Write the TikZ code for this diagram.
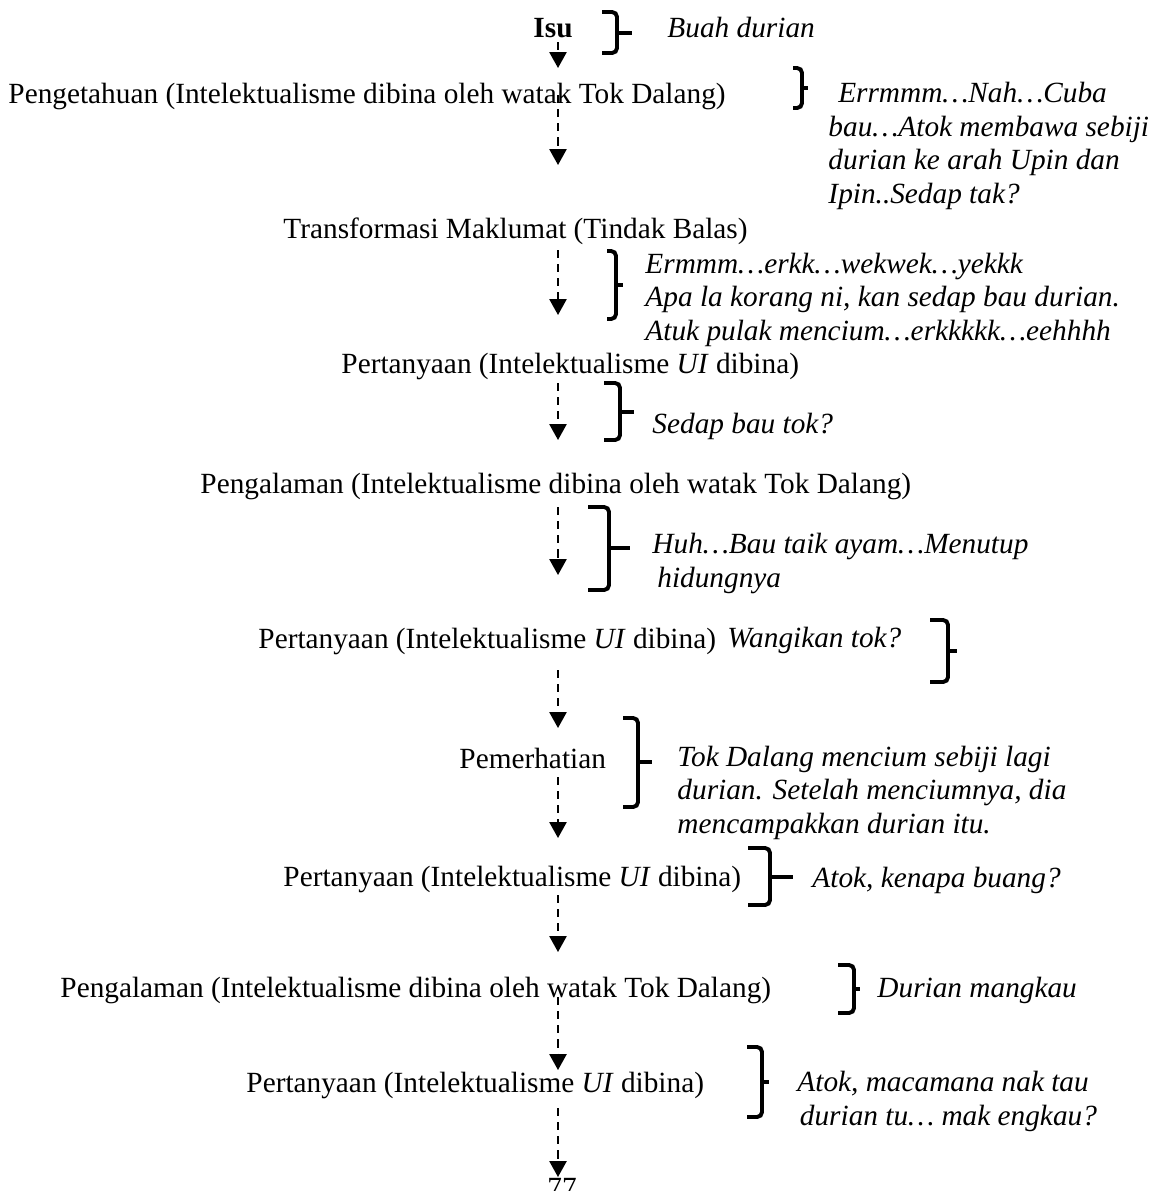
\documentclass[tikz,border=0pt]{standalone}
\usepackage{fontspec}
\setmainfont{Liberation Serif}
\usetikzlibrary{arrows.meta}

% kurung: hujung, tegak, atas, bawah, tengah, taji
\newcommand{\kurung}[6]{%
  \draw[krg] (#1,#3) -- (#2,#3) -- (#2,#4) -- (#1,#4);
  \draw[krg] (#2,#5) -- (#6,#5);}

\begin{document}
\begin{tikzpicture}[->,>={Triangle[width=7pt,length=6.5pt]},x=0.4096pt,y=-0.4096pt,
    font=\fontsize{12}{13.7}\selectfont]
  \tikzstyle{txt}=[anchor=base west,inner sep=0pt,align=left]
  \tikzstyle{ket}=[txt,font=\fontsize{12}{13.7}\selectfont\itshape]
  \tikzstyle{alir}=[line width=0.8pt,dash pattern=on 3.3pt off 2.5pt]
  \tikzstyle{krg}=[-,line width=1.6pt,rounded corners=2pt]
  \useasboundingbox[fill=white] (0,0) rectangle (1160,1191);

  % aliran utama
  \node[txt] (isu) at (533,37) {\textbf{Isu}};
  \node[txt] (tahu) at (8,103) {Pengetahuan (Intelektualisme dibina oleh watak Tok Dalang)};
  \node[txt] (trans) at (283,238) {Transformasi Maklumat (Tindak Balas)};
  \node[txt] (tanya1) at (341,373) {Pertanyaan (Intelektualisme \textit{UI} dibina)};
  \node[txt] (alam1) at (200,493) {Pengalaman (Intelektualisme dibina oleh watak Tok Dalang)};
  \node[txt] (tanya2) at (258,648) {Pertanyaan (Intelektualisme \textit{UI} dibina)};
  \node[txt] (perhati) at (459,768) {Pemerhatian};
  \node[txt] (tanya3) at (283,886) {Pertanyaan (Intelektualisme \textit{UI} dibina)};
  \node[txt] (alam2) at (60,997) {Pengalaman (Intelektualisme dibina oleh watak Tok Dalang)};
  \node[txt] (tanya4) at (246,1092) {Pertanyaan (Intelektualisme \textit{UI} dibina)};
  \node[txt] (hal) at (547,1197) {77};

  % keterangan (baris akhir pada koordinat)
  \node[ket] (k1) at (667,37) {Buah durian};
  \node[ket] (k2) at (828,203) {\hspace*{4pt}Errmmm…Nah…Cuba\\bau…Atok membawa sebiji\\durian ke arah Upin dan\\Ipin..Sedap tak?};
  \node[ket] (k3) at (645,340) {Ermmm…erkk…wekwek…yekkk\\Apa la korang ni, kan sedap bau durian.\\Atuk pulak mencium…erkkkkk…eehhhh};
  \node[ket] (k4) at (652,433) {Sedap bau tok?};
  \node[ket] (k5) at (652,587) {Huh…Bau taik ayam…Menutup\\\hspace*{2pt}hidungnya};
  \node[ket] (k6) at (727,647) {Wangikan tok?};
  \node[ket] (k7) at (677,833) {Tok Dalang mencium sebiji lagi\\durian. Setelah menciumnya, dia\\mencampakkan durian itu.};
  \node[ket] (k8) at (812,887) {Atok, kenapa buang?};
  \node[ket] (k9) at (877,997) {Durian mangkau};
  \node[ket] (k10) at (797,1125) {Atok, macamana nak tau\\\hspace*{1pt}durian tu… mak engkau?};

  % kurungan
  \kurung{602}{617}{12}{53}{33}{632}
  \kurung{793}{802}{68}{108}{88}{808}
  \kurung{607}{616}{251}{319}{285}{623}
  \kurung{604}{620}{383}{440}{412}{634}
  \kurung{588}{609}{507}{590}{548}{630}
  \kurung{930}{948}{620}{682}{651}{957}
  \kurung{623}{638}{718}{807}{762}{652}
  \kurung{748}{770}{848}{905}{877}{793}
  \kurung{838}{854}{965}{1013}{989}{860}
  \kurung{747}{762}{1047}{1117}{1082}{769}

  % anak panah
  \coordinate (s1) at (558,42);    \coordinate (e1) at (558,68);
  \coordinate (s2) at (558,95);    \coordinate (e2) at (558,165);
  \coordinate (s3) at (558,250);   \coordinate (e3) at (558,315);
  \coordinate (s4) at (558,383);   \coordinate (e4) at (558,440);
  \coordinate (s5) at (558,507);   \coordinate (e5) at (558,575);
  \coordinate (s6) at (558,670);   \coordinate (e6) at (558,728);
  \coordinate (s7) at (558,777);   \coordinate (e7) at (558,838);
  \coordinate (s8) at (558,895);   \coordinate (e8) at (558,952);
  \coordinate (s9) at (558,997);   \coordinate (e9) at (558,1070);
  \coordinate (s10) at (558,1108); \coordinate (e10) at (558,1177);
  \path (s1) edge[alir] (e1)
        (s2) edge[alir] (e2)
        (s3) edge[alir] (e3)
        (s4) edge[alir] (e4)
        (s5) edge[alir] (e5)
        (s6) edge[alir] (e6)
        (s7) edge[alir] (e7)
        (s8) edge[alir] (e8)
        (s9) edge[alir] (e9)
        (s10) edge[alir] (e10);
\end{tikzpicture}
\end{document}
